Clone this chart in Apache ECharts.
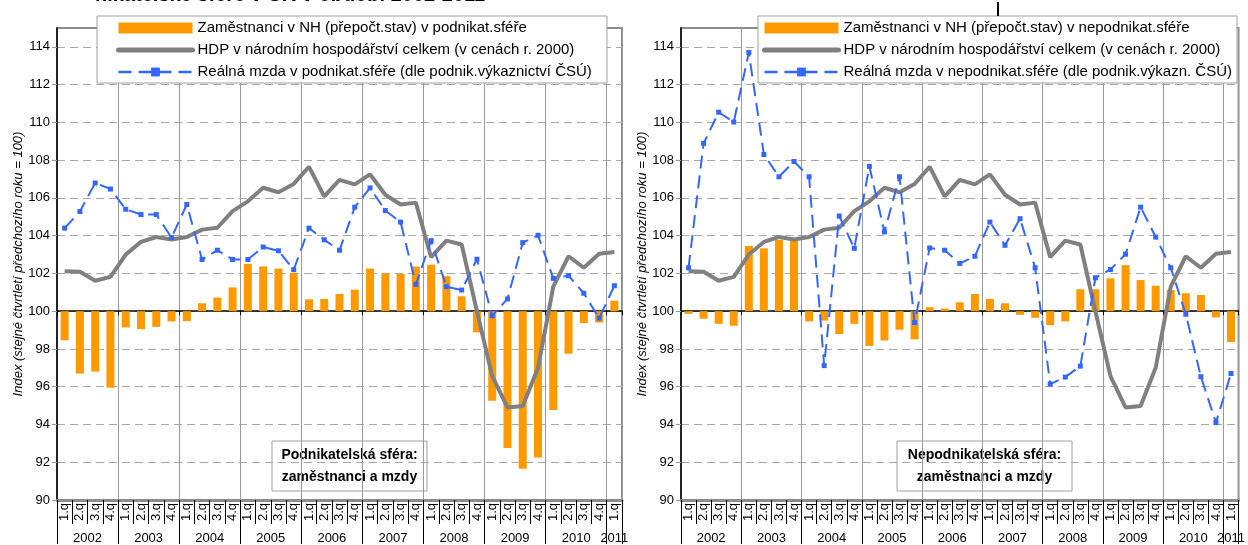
<!DOCTYPE html>
<html><head><meta charset="utf-8">
<script src="https://cdn.jsdelivr.net/npm/echarts@6/dist/echarts.min.js"></script>
<style>html,body{margin:0;padding:0;background:#fff}#c{width:1248px;height:545px}</style>
</head><body><div id="c"></div><script>
// ---- DATA ----
const categories = [
 '1.q','2.q','3.q','4.q', '1.q','2.q','3.q','4.q', '1.q','2.q','3.q','4.q',
 '1.q','2.q','3.q','4.q', '1.q','2.q','3.q','4.q', '1.q','2.q','3.q','4.q',
 '1.q','2.q','3.q','4.q', '1.q','2.q','3.q','4.q', '1.q','2.q','3.q','4.q', '1.q'];
const years = ['2002','2003','2004','2005','2006','2007','2008','2009','2010','2011'];
const yTicks = [90,92,94,96,98,100,102,104,106,108,110,112,114];

const empPodnik = [98.46,96.70,96.80,95.95, 99.14,99.05,99.17,99.46, 99.47,100.42,100.72,101.26,
 102.51,102.37,102.26,102.03, 100.63,100.65,100.91,101.14, 102.26,102.00,101.97,102.37,
 102.46,101.86,100.79,98.88, 95.26,92.76,91.65,92.25, 94.77,97.75,99.37,99.40, 100.56];
const gdp = [102.12,102.09,101.61,101.82, 103.00,103.67,103.93,103.80, 103.93,104.32,104.42,105.30,
 105.82,106.54,106.30,106.74, 107.65,106.08,106.96,106.72, 107.25,106.17,105.65,105.75,
 102.86,103.74,103.53,100.00, 96.56,94.90,94.98,97.00, 101.30,102.91,102.30,103.04, 103.14];
const wagePodnik = [104.40,105.28,106.79,106.47, 105.40,105.12,105.12,103.90, 105.65,102.74,103.23,102.74,
 102.74,103.40,103.20,102.20, 104.40,103.78,103.23,105.51, 106.53,105.33,104.72,101.42,
 103.74,101.30,101.12,102.75, 99.76,100.65,103.63,104.02, 101.74,101.88,100.95,99.63, 101.35];
const empNepodnik = [99.86,99.60,99.33,99.23, 103.46,103.33,103.77,103.86, 99.46,99.50,98.79,99.33,
 98.16,98.45,99.02,98.51, 100.21,100.14,100.47,100.91, 100.65,100.42,99.81,99.65,
 99.26,99.46,101.16,101.16, 101.74,102.44,101.65,101.35, 101.12,100.95,100.86,99.67, 98.37];
const wageNepodnik = [102.30,108.89,110.54,110.02, 113.70,108.30,107.12,107.93, 107.12,97.12,105.04,103.33,
 107.67,104.20,107.12,99.40, 103.35,103.23,102.53,102.91, 104.72,103.49,104.90,102.30,
 96.14,96.51,97.09,101.77, 102.21,103.02,105.51,103.93, 102.30,99.84,96.53,94.10, 96.70];

const namesL = ['Zaměstnanci v NH (přepočt.stav) v podnikat.sféře',
 'HDP v národním hospodářství celkem (v cenách r. 2000)',
 'Reálná mzda v podnikat.sféře (dle podnik.výkaznictví ČSÚ)'];
const namesR = ['Zaměstnanci v NH (přepočt.stav) v nepodnikat.sféře',
 'HDP v národním hospodářství celkem (v cenách r. 2000)',
 'Reálná mzda v nepodnikat.sféře (dle podnik.výkazn. ČSÚ)'];
const yName = 'Index (stejné čtvrtletí předchozího roku = 100)';

// ---- CHART ----
const BASE = 100;
const FONT = 'Liberation Sans, Arial, sans-serif';
const off = a => a.map(v => Math.round((v - BASE) * 100) / 100);
const N = categories.length;
const yearBounds = [], yearCenters = [];
years.forEach((y, k) => {
  const s = k * 4, e = Math.min(s + 4, N);
  yearBounds.push(s); yearCenters.push((s + e) / 2);
});
yearBounds.push(N);

const grids = [
  {left: 57, top: 28, width: 565, height: 475, show: true, borderColor: '#8c8c8c', borderWidth: 2, backgroundColor: '#fff'},
  {left: 681, top: 28, width: 566, height: 475, show: true, borderColor: '#8c8c8c', borderWidth: 2, backgroundColor: '#fff'}
];
const xAxes = [], yAxes = [], series = [];
[0, 1].forEach(g => {
  xAxes.push({
    type: 'category', gridIndex: g, data: categories, position: 'bottom', boundaryGap: true,
    axisLine: {onZero: false, lineStyle: {color: '#8c8c8c', width: 3}},
    axisTick: {show: true, interval: 0, length: 24, lineStyle: {color: '#000', width: 1}},
    axisLabel: {interval: 0, rotate: 90, fontSize: 13, color: '#000', margin: 3, fontFamily: FONT},
    splitLine: {show: false}
  });
  xAxes.push({
    type: 'value', gridIndex: g, min: 0, max: N, interval: 4, position: 'bottom',
    axisLine: {show: false, onZero: false},
    axisTick: {show: true, length: 44, customValues: yearBounds, lineStyle: {color: '#000', width: 1}},
    axisLabel: {show: true, customValues: yearCenters, margin: 32, fontSize: 13, color: '#000', fontFamily: FONT,
      formatter: v => years[Math.min(years.length - 1, Math.floor(v / 4))]},
    splitLine: {show: true, lineStyle: {color: '#9a9a9a', width: 1}}
  });
  xAxes.push({
    type: 'value', gridIndex: g, min: 0, max: N, interval: 4, position: 'bottom',
    axisLine: {show: true, onZero: true, lineStyle: {color: '#000', width: 1.5}},
    axisTick: {show: true, length: 4, customValues: yearBounds, lineStyle: {color: '#000', width: 1}},
    axisLabel: {show: false}, splitLine: {show: false}
  });
  yAxes.push({
    type: 'value', gridIndex: g, min: yTicks[0] - BASE, max: 115 - BASE, interval: 2,
    axisLine: {show: true, onZero: false, lineStyle: {color: '#000', width: 1.5}},
    axisTick: {show: true, length: 5, customValues: yTicks.map(v => v - BASE), lineStyle: {color: '#9a9a9a'}},
    axisLabel: {customValues: yTicks.map(v => v - BASE), formatter: v => String(Math.round(v + BASE)),
      fontSize: 13, color: '#000', margin: 7, fontFamily: FONT},
    splitLine: {show: true, lineStyle: {color: '#a8a8a8', type: [8, 5], width: 1}},
    name: yName, nameLocation: 'middle', nameGap: 32,
    nameTextStyle: {fontStyle: 'italic', fontSize: 13, color: '#000', fontFamily: FONT}
  });
  const names = g === 0 ? namesL : namesR;
  const emp = g === 0 ? empPodnik : empNepodnik;
  const wage = g === 0 ? wagePodnik : wageNepodnik;
  series.push({name: names[0], type: 'bar', xAxisIndex: g * 3, yAxisIndex: g, data: off(emp),
    barWidth: 8, itemStyle: {color: '#FF9900'}, z: 2});
  series.push({name: names[1], type: 'line', xAxisIndex: g * 3, yAxisIndex: g, data: off(gdp),
    symbol: 'none', lineStyle: {color: '#808080', width: 4}, itemStyle: {color: '#808080'}, z: 3});
  series.push({name: names[2], type: 'line', xAxisIndex: g * 3, yAxisIndex: g, data: off(wage),
    symbol: 'rect', symbolSize: 5, showSymbol: true,
    lineStyle: {color: '#3366FF', width: 2, type: [13, 7]}, itemStyle: {color: '#3366FF'}, z: 4});
});

function legendFor(names, left) {
  return {
    orient: 'vertical', left: left, top: 20, itemWidth: 74, itemHeight: 11, itemGap: 6, padding: 0,
    selectedMode: false, z: 30,
    textStyle: {fontSize: 15, color: '#000', fontFamily: FONT, lineHeight: 16},
    data: [
      {name: names[0], icon: 'rect'},
      {name: names[1], itemStyle: {opacity: 0}, lineStyle: {width: 5, cap: 'round'}},
      {name: names[2], lineStyle: {width: 2.5}}
    ]
  };
}

function noteBox(x, w, text) {
  return {
    type: 'group', z: 20, children: [
      {type: 'rect', shape: {x: x, y: 441, width: w, height: 50}, style: {fill: '#fff', stroke: '#a0a0a0', lineWidth: 1}},
      {type: 'text', style: {x: x + w / 2, y: 466, text: text, textAlign: 'center', textVerticalAlign: 'middle',
        font: 'bold 14px ' + FONT, fill: '#000', lineHeight: 22}}
    ]
  };
}

const chart = echarts.init(document.getElementById('c'), null, {renderer: 'canvas'});
chart.setOption({
  animation: false,
  backgroundColor: '#fff',
  grid: grids,
  xAxis: xAxes,
  yAxis: yAxes,
  series: series,
  legend: [legendFor(namesL, 116), legendFor(namesR, 762)],
  graphic: [
    {type: 'rect', z: 25, shape: {x: 97, y: 16, width: 510, height: 67}, style: {fill: '#fff', stroke: '#a0a0a0', lineWidth: 1}},
    {type: 'rect', z: 25, shape: {x: 758, y: 16, width: 479, height: 67}, style: {fill: '#fff', stroke: '#a0a0a0', lineWidth: 1}},
    noteBox(272, 155, 'Podnikatelská sféra:\nzaměstnanci a mzdy'),
    noteBox(897, 175, 'Nepodnikatelská sféra:\nzaměstnanci a mzdy'),
    {type: 'text', z: 25, style: {x: 95, y: -15, text: 'nikatelské sféře v ČR v období 2002-2011', textVerticalAlign: 'top',
      font: 'bold 20px ' + FONT, fill: '#000'}},
    {type: 'rect', z: 25, shape: {x: 997, y: 2, width: 2, height: 14}, style: {fill: '#000'}}
  ]
});
</script></body></html>
